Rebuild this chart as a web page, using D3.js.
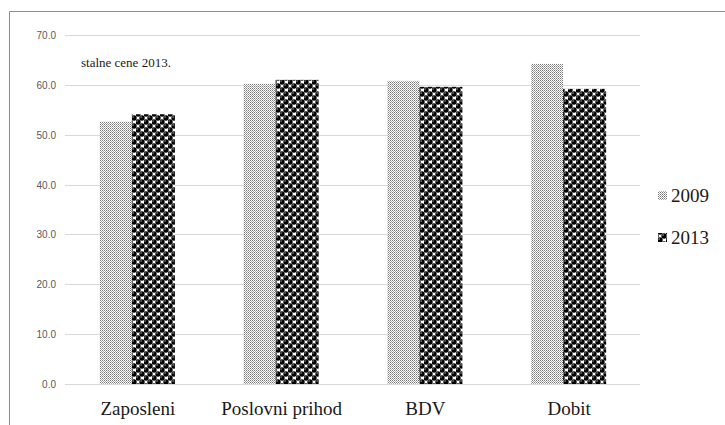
<!DOCTYPE html>
<html><head><meta charset="utf-8">
<script src="https://cdn.jsdelivr.net/npm/d3@7"></script>
<style>body{margin:0;background:#fff}svg{display:block}</style>
</head><body>
<svg id="c" width="725" height="425"></svg>
<script>
const categories = ["Zaposleni", "Poslovni prihod", "BDV", "Dobit"];
const seriesNames = ["2009", "2013"];
const values2009 = [52.6, 60.2, 60.8, 64.2];
const values2013 = [54.1, 61.0, 59.6, 59.2];
const yTicks = [0, 10, 20, 30, 40, 50, 60, 70];
const note = "stalne cene 2013.";

const svg = d3.select("#c");
const serif = 'Liberation Serif, Tinos, Noto Serif, DejaVu Serif, FreeSerif, Times, serif';
const sans = 'Liberation Sans, Arial, sans-serif';

// patterns
const defs = svg.append("defs");
const p1 = defs.append("pattern").attr("id","pat2009").attr("patternUnits","userSpaceOnUse")
  .attr("width",2).attr("height",2);
p1.append("rect").attr("width",2).attr("height",2).attr("fill","#fff");
p1.append("rect").attr("width",1).attr("height",1).attr("fill","#7a7a7a");
p1.append("rect").attr("x",1).attr("y",1).attr("width",1).attr("height",1).attr("fill","#a8a8a8");
const p2 = defs.append("pattern").attr("id","pat2013").attr("patternUnits","userSpaceOnUse")
  .attr("width",8).attr("height",8);
p2.append("rect").attr("width",8).attr("height",8).attr("fill","#fff");
[[2,2],[6,6],[-2,6],[10,6],[6,-2],[2,10]].forEach(([cx,cy])=>{
  p2.append("circle").attr("cx",cx).attr("cy",cy).attr("r",2.7).attr("fill","#000");
  p2.append("circle").attr("cx",cx-0.9).attr("cy",cy-0.9).attr("r",0.8).attr("fill","#999");
});

// frame
svg.append("path").attr("d","M9.5,425 V11.5 H725").attr("fill","none").attr("stroke","#8c8c8c").attr("stroke-width",1);

const x = d3.scaleBand().domain(categories).range([65, 640]);
const y = d3.scaleLinear().domain([0, 70]).range([384, 35]);

// gridlines
svg.append("g").selectAll("line").data(yTicks).join("line")
  .attr("x1",65).attr("x2",640)
  .attr("y1",d=>Math.round(y(d))+0.5).attr("y2",d=>Math.round(y(d))+0.5)
  .attr("stroke","#d9d9d9").attr("stroke-width",1);

// y tick labels
svg.append("g").selectAll("text").data(yTicks).join("text")
  .attr("x",56).attr("y",d=>y(d)+4)
  .attr("text-anchor","end").attr("font-family",sans).attr("font-size",10)
  .attr("fill","#595959").text(d=>d.toFixed(1));

// bars
const c = d => x(d) + x.bandwidth()/2;
svg.append("g").selectAll("rect").data(categories).join("rect")
  .attr("x",d=>c(d)-37).attr("width",32)
  .attr("y",(d,i)=>y(values2009[i])).attr("height",(d,i)=>y(0)-y(values2009[i]))
  .attr("fill","url(#pat2009)");
svg.append("g").selectAll("rect").data(categories).join("rect")
  .attr("x",d=>c(d)-5).attr("width",43)
  .attr("y",(d,i)=>y(values2013[i])).attr("height",(d,i)=>y(0)-y(values2013[i]))
  .attr("fill","url(#pat2013)");

// category labels
svg.append("g").selectAll("text").data(categories).join("text")
  .attr("x",d=>c(d)+1).attr("y",415).attr("text-anchor","middle")
  .attr("font-family",serif).attr("font-size",19).attr("fill","#1a1a1a").text(d=>d);

// note
svg.append("text").attr("x",81).attr("y",67).attr("font-family",serif).attr("font-size",13)
  .attr("fill","#1a1a1a").text(note);

// legend
const lg = svg.append("g").selectAll("g").data(seriesNames).join("g")
  .attr("transform",(d,i)=>`translate(658,${196+i*42})`);
lg.append("rect").attr("x",0).attr("y",-5).attr("width",9).attr("height",9)
  .attr("fill",(d,i)=>i===0?"url(#pat2009)":"url(#pat2013)");
lg.append("text").attr("x",13).attr("y",6).attr("font-family",serif).attr("font-size",19)
  .attr("fill","#1a1a1a").text(d=>d);
</script>
</body></html>
